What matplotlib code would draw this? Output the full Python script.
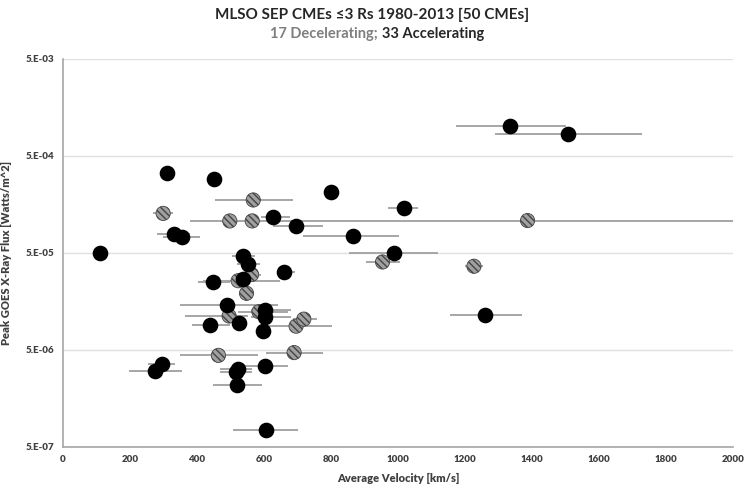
import numpy as np
import matplotlib
matplotlib.use("Agg")
import matplotlib.pyplot as plt
from matplotlib.ticker import FixedLocator, NullLocator

plt.rcParams['font.family'] = ['Lato', 'DejaVu Sans']

# Decelerating CMEs (hatched)
dec_v = [568, 299, 498, 565, 1387, 954, 1227, 563, 523, 548, 496, 585, 696, 719, 464, 690]
dec_flux = [1.76e-4, 1.28e-4, 1.07e-4, 1.07e-4, 1.08e-4, 4.04e-5, 3.65e-5, 3.0e-5,
            2.59e-5, 1.92e-5, 1.12e-5, 1.24e-5, 8.8e-6, 1.04e-5, 4.4e-6, 4.7e-6]
dec_lo = [454, 269, 498, 565, 379, 904, 1200, 530, 418, 548, 364, 522, 597, 687, 349, 606]
dec_hi = [687, 328, 498, 565, 2100, 1006, 1254, 590, 648, 548, 552, 672, 803, 758, 582, 776]

# Accelerating CMEs (black)
acc_v = [1336, 1507, 309, 452, 799, 1017, 628, 697, 865, 332, 356, 110, 988, 536, 553,
         661, 447, 536, 489, 439, 526, 603, 603, 598, 1260, 603, 523, 516, 520, 295, 275, 605]
acc_flux = [1.03e-3, 8.4e-4, 3.37e-4, 2.88e-4, 2.14e-4, 1.47e-4, 1.17e-4, 9.6e-5, 7.4e-5,
            7.85e-5, 7.3e-5, 5.0e-5, 5.04e-5, 4.7e-5, 3.85e-5, 3.2e-5, 2.5e-5, 2.68e-5,
            1.46e-5, 9.1e-6, 9.6e-6, 1.28e-5, 1.1e-5, 7.9e-6, 1.15e-5, 3.4e-6, 3.2e-6,
            2.95e-6, 2.2e-6, 3.56e-6, 3.06e-6, 7.4e-7]
acc_lo = [1173, 1290, 309, 452, 799, 970, 590, 627, 716, 281, 299, 110, 854, 504, 519,
          639, 403, 536, 349, 385, 526, 560, 560, 598, 1155, 543, 470, 470, 448, 254, 197, 507]
acc_hi = [1502, 1728, 309, 452, 799, 1060, 678, 776, 1003, 379, 409, 110, 1119, 573, 588,
          693, 500, 536, 642, 500, 526, 680, 680, 598, 1370, 672, 565, 565, 594, 334, 355, 701]

yticks = [5e-7, 5e-6, 5e-5, 5e-4, 5e-3]
ytick_labels = ['5.E-07', '5.E-06', '5.E-05', '5.E-04', '5.E-03']
xticks = list(range(0, 2001, 200))

fig = plt.figure(figsize=(7.44, 4.9), dpi=100)
ax = fig.add_axes([0.0847, 0.0878, 0.9003, 0.7918])

err_color = '#a6a6a6'
for v, f, lo, hi in zip(dec_v + acc_v, dec_flux + acc_flux, dec_lo + acc_lo, dec_hi + acc_hi):
    if hi > lo:
        ax.plot([lo, hi], [f, f], color=err_color, lw=1.4, zorder=2, solid_capstyle='butt')

ax.scatter(dec_v, dec_flux, s=105, facecolor='#a0a0a0', edgecolor='#444444',
           hatch='\\\\\\\\\\', linewidth=0.6, zorder=3)
ax.scatter(acc_v, acc_flux, s=105, color='black', zorder=4)

ax.set_yscale('log')
ax.set_xlim(0, 2000)
ax.set_ylim(5e-7, 5e-3)
ax.yaxis.set_major_locator(FixedLocator(yticks))
ax.yaxis.set_minor_locator(NullLocator())
ax.set_yticklabels(ytick_labels, fontweight='heavy')
ax.set_xticks(xticks)
ax.set_xticklabels([str(t) for t in xticks], fontweight='heavy')
ax.tick_params(length=0, labelsize=7, labelcolor='#404040', pad=6)

ax.grid(axis='y', color='#e0e0e0', lw=1)
ax.set_axisbelow(True)
for side in ['top', 'right']:
    ax.spines[side].set_visible(False)
for side in ['left', 'bottom']:
    ax.spines[side].set_color('#a6a6a6')
    ax.spines[side].set_linewidth(1.2)

ax.set_xlabel('Average Velocity [km/s]', fontsize=8, fontweight='heavy', color='#404040', labelpad=6)
ax.set_ylabel('Peak GOES X-Ray Flux [Watts/m^2]', fontsize=8, fontweight='heavy', color='#404040', labelpad=10)

fig.text(0.5, 0.969, 'MLSO SEP CMEs \u22643 Rs 1980-2013 [50 CMEs]', ha='center', va='center',
         fontsize=11, fontweight='bold', color='#262626')
fig.text(0.513, 0.93, '17 Decelerating; ', ha='right', va='center', fontsize=10.5,
         fontweight='bold', color='#7f7f7f')
fig.text(0.513, 0.93, '33 Accelerating', ha='left', va='center', fontsize=10.5,
         fontweight='bold', color='#262626')

fig.savefig('out.png', dpi=100)
